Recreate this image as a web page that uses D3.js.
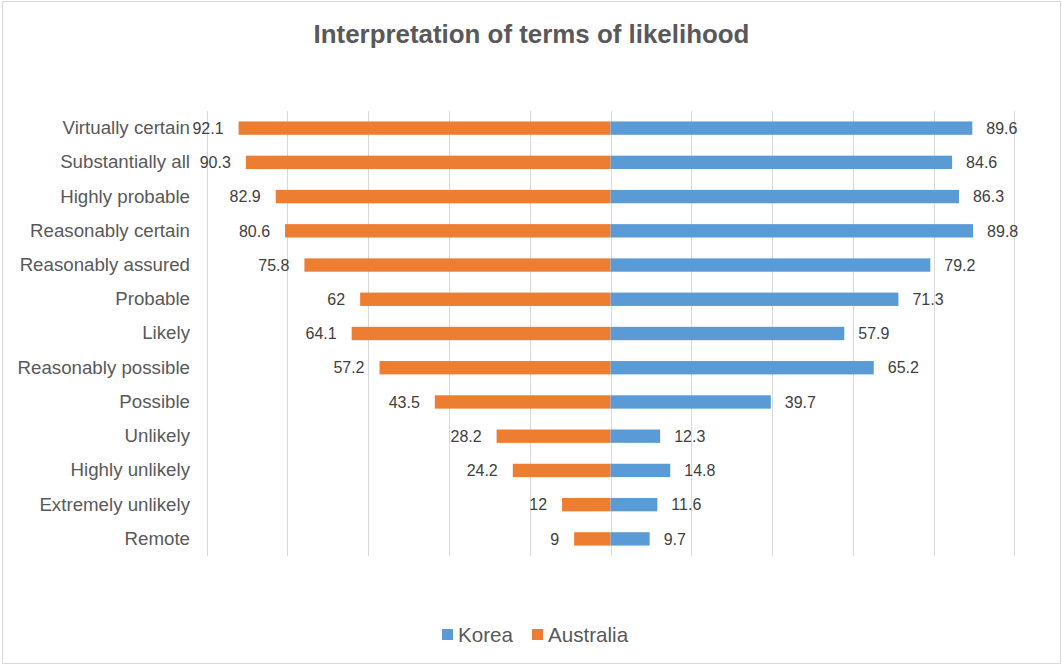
<!DOCTYPE html>
<html>
<head>
<meta charset="utf-8">
<script src="https://cdn.jsdelivr.net/npm/d3@7/dist/d3.min.js"></script>
<style>
  html, body { margin: 0; padding: 0; background: #fff; }
  svg { display: block; font-family: "Liberation Sans", Arial, sans-serif; }
</style>
</head>
<body>
<svg id="chart" width="1062" height="665"></svg>
<script>
// Likelihood terms, top to bottom
const categories = [
  "Virtually certain", "Substantially all", "Highly probable", "Reasonably certain",
  "Reasonably assured", "Probable", "Likely", "Reasonably possible", "Possible",
  "Unlikely", "Highly unlikely", "Extremely unlikely", "Remote"
];
const korea = [89.6, 84.6, 86.3, 89.8, 79.2, 71.3, 57.9, 65.2, 39.7, 12.3, 14.8, 11.6, 9.7];
const australia = [92.1, 90.3, 82.9, 80.6, 75.8, 62, 64.1, 57.2, 43.5, 28.2, 24.2, 12, 9];
const gridTicks = [-100, -80, -60, -40, -20, 0, 20, 40, 60, 80, 100];
const seriesNames = ["Korea", "Australia"];

const colors = { Korea: "#5B9BD5", Australia: "#ED7D31" };
const textColor = "#595959";

const svg = d3.select("#chart");
const W = 1062, H = 665;

// chart frame
svg.append("rect")
  .attr("x", 2.5).attr("y", 1.5).attr("width", W - 4).attr("height", H - 3)
  .attr("fill", "#fff").attr("stroke", "#d9d9d9").attr("stroke-width", 1);

const x = d3.scaleLinear().domain([-100, 100]).range([206.7, 1014.3]);
const y = d3.scaleBand().domain(categories).range([111, 556]).paddingInner(0.61).paddingOuter(0.305);

// vertical gridlines
svg.append("g").selectAll("line").data(gridTicks).join("line")
  .attr("x1", d => Math.round(x(d)) + 0.5).attr("x2", d => Math.round(x(d)) + 0.5)
  .attr("y1", 111).attr("y2", 556)
  .attr("stroke", "#d9d9d9").attr("stroke-width", 1);

// Australia bars extend left from zero
svg.append("g").selectAll("rect").data(categories).join("rect")
  .attr("x", (d, i) => x(-australia[i]))
  .attr("y", d => y(d))
  .attr("width", (d, i) => x(0) - x(-australia[i]))
  .attr("height", y.bandwidth())
  .attr("fill", colors.Australia);

// Korea bars extend right from zero
svg.append("g").selectAll("rect").data(categories).join("rect")
  .attr("x", x(0))
  .attr("y", d => y(d))
  .attr("width", (d, i) => x(korea[i]) - x(0))
  .attr("height", y.bandwidth())
  .attr("fill", colors.Korea);

// value labels
const labelSize = 16;
svg.append("g").selectAll("text").data(categories).join("text")
  .attr("x", (d, i) => x(-australia[i]) - 15)
  .attr("y", d => y(d) + y.bandwidth() / 2)
  .attr("dy", "0.36em")
  .attr("text-anchor", "end")
  .attr("font-size", labelSize)
  .attr("fill", "#404040")
  .text((d, i) => australia[i]);

svg.append("g").selectAll("text").data(categories).join("text")
  .attr("x", (d, i) => x(korea[i]) + 14)
  .attr("y", d => y(d) + y.bandwidth() / 2)
  .attr("dy", "0.36em")
  .attr("text-anchor", "start")
  .attr("font-size", labelSize)
  .attr("fill", "#404040")
  .text((d, i) => korea[i]);

// category axis labels
const yAxis = d3.axisLeft(y).tickSize(0).tickPadding(0);
const ax = svg.append("g").attr("transform", "translate(190,0)").call(yAxis);
ax.select(".domain").remove();
ax.selectAll("text")
  .attr("font-size", 18.7)
  .attr("font-family", "Liberation Sans, Arial, sans-serif")
  .attr("fill", textColor);

// title
svg.append("text")
  .attr("x", 531.5).attr("y", 43)
  .attr("text-anchor", "middle")
  .attr("font-size", 25.9).attr("font-weight", "bold")
  .attr("fill", textColor)
  .text("Interpretation of terms of likelihood");

// legend
const legend = svg.append("g");
const legendItems = [
  { name: seriesNames[0], sx: 442, tx: 458 },
  { name: seriesNames[1], sx: 532, tx: 548 }
];
legend.selectAll("rect").data(legendItems).join("rect")
  .attr("x", d => d.sx).attr("y", 629).attr("width", 11).attr("height", 11)
  .attr("fill", d => colors[d.name]);
legend.selectAll("text").data(legendItems).join("text")
  .attr("x", d => d.tx).attr("y", 634.5).attr("dy", "0.36em")
  .attr("font-size", 20.6).attr("fill", textColor)
  .text(d => d.name);
</script>
</body>
</html>
